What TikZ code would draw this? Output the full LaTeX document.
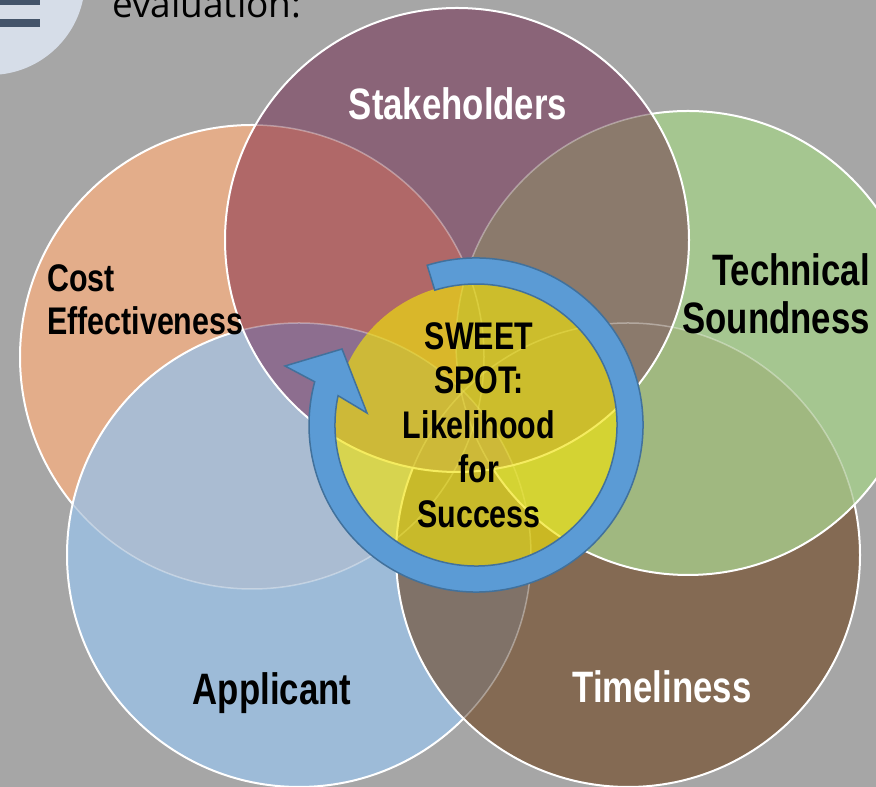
\documentclass[tikz,border=0pt]{standalone}
\usepackage{fontspec}
\setmainfont{Liberation Sans}[FakeStretch=0.79]
\newfontfamily\headfont{Open Sans}

\definecolor{slideGray}{HTML}{A6A6A6}
\definecolor{iconPale}{HTML}{D6DDE8}
\definecolor{iconBar}{HTML}{44546A}
\definecolor{costFill}{HTML}{E3AD8A}
\definecolor{applFill}{HTML}{9DBBD8}
\definecolor{timeFill}{HTML}{846A53}
\definecolor{techFill}{HTML}{A5C690}
\definecolor{stakeFill}{HTML}{8A6478}
\definecolor{costApplFill}{HTML}{AABCD2}
\definecolor{costTimeFill}{HTML}{9C8478}
\definecolor{applTimeFill}{HTML}{807268}
\definecolor{techCostFill}{HTML}{A89A80}
\definecolor{techApplFill}{HTML}{98A890}
\definecolor{techTimeFill}{HTML}{A0B880}
\definecolor{stakeTimeFill}{HTML}{86695F}
\definecolor{stakeCostFill}{HTML}{B06868}
\definecolor{stakeTechFill}{HTML}{8B7A6C}
\definecolor{stakeApplFill}{HTML}{8D6E8F}
\definecolor{sweetYellow}{HTML}{F0E20A}
\definecolor{ringBlue}{HTML}{5B9BD5}
\definecolor{ringEdge}{HTML}{41719C}

\newcommand{\vennR}{232pt}

\tikzset{
  venn/.style={
    draw=white,
    line width=2pt
  },
  hidden edge/.style={
    draw=white,
    draw opacity=0.35,
    line width=1.5pt
  },
  big label/.style={
    inner sep=0pt,
    font=\bfseries\fontsize{44}{48}\selectfont
  },
  small label/.style={
    inner sep=0pt,
    font=\bfseries\fontsize{38.5}{43}\selectfont
  },
  sweet/.style={
    fill=sweetYellow,
    fill opacity=0.65
  },
  ring/.style={
    fill=ringBlue,
    draw=ringEdge,
    line width=1.5pt
  },
}

\begin{document}
\begin{tikzpicture}[x=1pt, y=1pt]

  \clip (0,0) rectangle (876,787);
  \fill[slideGray] (0,0) rectangle (876,787);

  % Slide corner
  \fill[iconPale] (-10,807) circle[radius=95pt];
  \fill[iconBar] (0,782) rectangle (40,787);
  \fill[iconBar] (0,760) rectangle (40,768);
  \node (intro) [anchor=base west, inner sep=0pt,
    font=\headfont\fontsize{37}{40}\selectfont] at (112,769) {evaluation:};

  % Circle centres
  \coordinate (cost) at (252,430);
  \coordinate (appl) at (299,232);
  \coordinate (time) at (628,232);
  \coordinate (tech) at (688,444);
  \coordinate (stake) at (457,547);
  \coordinate (sweet) at (476,362);

  % Cost effectiveness
  \fill[costFill] (cost) circle[radius=\vennR];
  \draw[venn] (cost) circle[radius=\vennR];

  % Applicant
  \fill[applFill] (appl) circle[radius=\vennR];
  \begin{scope}
    \clip (appl) circle[radius=\vennR];
    \fill[costApplFill] (cost) circle[radius=\vennR];
    \draw[hidden edge] (cost) circle[radius=\vennR];
  \end{scope}
  \draw[venn] (appl) circle[radius=\vennR];

  % Timeliness
  \fill[timeFill] (time) circle[radius=\vennR];
  \begin{scope}
    \clip (time) circle[radius=\vennR];
    \fill[costTimeFill] (cost) circle[radius=\vennR];
    \fill[applTimeFill] (appl) circle[radius=\vennR];
    \draw[hidden edge] (cost) circle[radius=\vennR];
    \draw[hidden edge] (appl) circle[radius=\vennR];
  \end{scope}
  \draw[venn] (time) circle[radius=\vennR];

  % Technical soundness
  \fill[techFill] (tech) circle[radius=\vennR];
  \begin{scope}
    \clip (tech) circle[radius=\vennR];
    \fill[techCostFill] (cost) circle[radius=\vennR];
    \fill[techApplFill] (appl) circle[radius=\vennR];
    \fill[techTimeFill] (time) circle[radius=\vennR];
    \draw[hidden edge] (cost) circle[radius=\vennR];
    \draw[hidden edge] (appl) circle[radius=\vennR];
    \draw[hidden edge] (time) circle[radius=\vennR];
  \end{scope}
  \draw[venn] (tech) circle[radius=\vennR];

  % Stakeholders
  \fill[stakeFill] (stake) circle[radius=\vennR];
  \begin{scope}
    \clip (stake) circle[radius=\vennR];
    \fill[stakeTimeFill] (time) circle[radius=\vennR];
    \fill[stakeCostFill] (cost) circle[radius=\vennR];
    \fill[stakeTechFill] (tech) circle[radius=\vennR];
    \fill[stakeApplFill] (appl) circle[radius=\vennR];
    \draw[hidden edge] (time) circle[radius=\vennR];
    \draw[hidden edge] (cost) circle[radius=\vennR];
    \draw[hidden edge] (tech) circle[radius=\vennR];
    \draw[hidden edge] (appl) circle[radius=\vennR];
  \end{scope}
  \draw[venn] (stake) circle[radius=\vennR];

  % Sweet spot and circular arrow
  \fill[sweet] (sweet) circle[radius=142pt];

  \coordinate (headOuter) at (285,421);
  \coordinate (headTip) at (342,438);
  \coordinate (headInner) at (367,374);
  \draw[ring] ([shift={(107:167)}]sweet)
    arc[start angle=107, end angle=-195, radius=167pt]
    -- (headOuter) -- (headTip) -- (headInner)
    -- ([shift={(-192:141)}]sweet)
    arc[start angle=-192, end angle=107, radius=141pt] -- cycle;

  % Labels
  \node (stakeLabel) [big label, text=white, anchor=base] at (458,667) {Stakeholders};
  \node (techLabel) [big label, align=right, anchor=north east] at (870,534) {Technical\\Soundness};
  \node (costLabel) [small label, align=left, anchor=north west] at (47,523) {Cost\\Effectiveness};
  \node (applLabel) [big label, anchor=base] at (272,82) {Applicant};
  \node (timeLabel) [big label, text=white, anchor=base] at (662,84) {Timeliness};
  \node (sweetLabel) [small label, align=center, anchor=north,
    font=\bfseries\fontsize{38.5}{44.5}\selectfont] at (479,465)
    {SWEET\\SPOT:\\Likelihood\\for\\Success};

\end{tikzpicture}
\end{document}
